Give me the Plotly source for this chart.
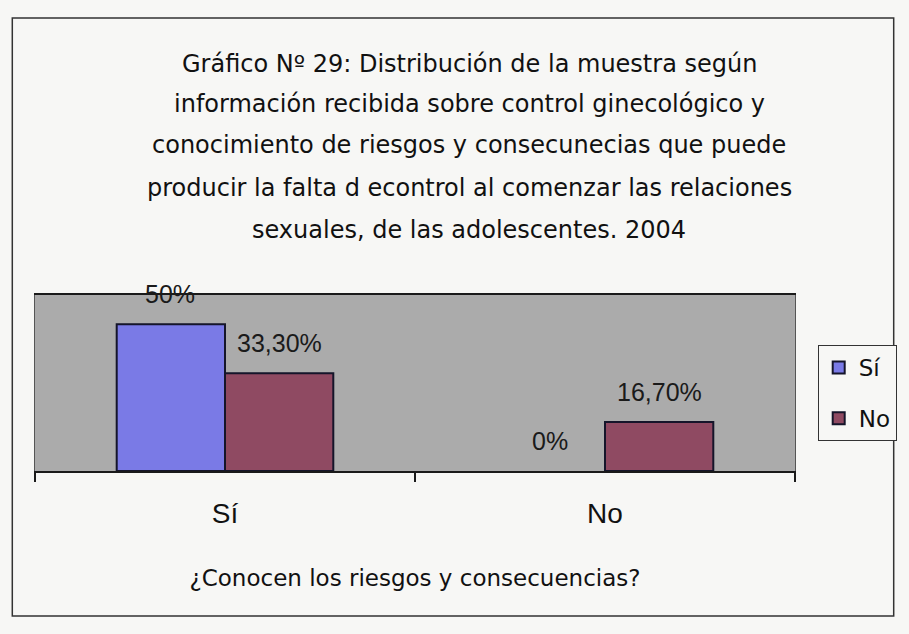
import plotly.graph_objects as go

# Categories on the x axis and the two answer series (percent of sample)
categories = ["Sí", "No"]
series_names = ["Sí", "No"]
values_si = [50, 0]
values_no = [33.3, 16.7]
series_values = [values_si, values_no]
series_colors = ["#7A7AE6", "#8F4A62"]

title_lines = [
    "Gráfico Nº 29: Distribución de la muestra según",
    "información recibida sobre control ginecológico y",
    "conocimiento de riesgos y consecunecias que puede",
    "producir la falta d econtrol al comenzar las relaciones",
    "sexuales, de las adolescentes. 2004",
]
x_title = "¿Conocen los riesgos y consecuencias?"

W, H = 909, 634
L, R, T, B = 35, 104, 295, 163
plot_h = H - T - B
plot_w = W - L - R

TEXT_FONT = "DejaVu Sans"
NUM_FONT = "Liberation Sans, Arial, sans-serif"
BG = "#F7F7F5"


def fmt_pct(v):
    if float(v).is_integer():
        return f"{int(v)}%"
    return f"{v:.2f}".replace(".", ",") + "%"


def py(pixel_y):
    # convert a page pixel row into paper y
    return (H - B - pixel_y) / plot_h


def px(pixel_x):
    return (pixel_x - L) / plot_w


fig = go.Figure()
for i, (name, vals, col) in enumerate(zip(series_names, series_values, series_colors)):
    fig.add_trace(go.Bar(
        name=name,
        x=categories,
        y=vals,
        legendgroup=name,
        marker=dict(
            color=col,
            # empty bars get no outline
            line=dict(color="#15152a", width=[2 if v else 0 for v in vals]),
        ),
        hoverinfo="skip",
    ))

bar_gap = 0.43
cat_px = plot_w / len(categories)
bar_px = cat_px * (1 - bar_gap) / len(series_names)

annotations = []
# value labels above each bar
for i, vals in enumerate(series_values):
    offset = (i - (len(series_names) - 1) / 2) * bar_px
    for c, v in zip(categories, vals):
        annotations.append(dict(
            x=c, y=v, xref="x", yref="y", xshift=offset, yshift=14,
            text=fmt_pct(v), showarrow=False, yanchor="bottom",
            font=dict(family=NUM_FONT, size=25, color="#1a1a1a"),
        ))

# chart title, one line per annotation
title_rows = [64, 104, 145, 188, 230]
for line, row in zip(title_lines, title_rows):
    annotations.append(dict(
        x=px(475), y=py(row), xref="paper", yref="paper",
        text=line, showarrow=False, xanchor="center", yanchor="middle",
        font=dict(family=TEXT_FONT, size=24, color="#111111"),
    ))

# outer chart frame
shapes = [dict(
    type="rect", xref="paper", yref="paper",
    x0=px(12), x1=px(905), y0=py(616), y1=py(18),
    line=dict(color="#333333", width=1.5), fillcolor="rgba(0,0,0,0)",
    layer="below",
)]

fig.update_layout(
    width=W, height=H,
    margin=dict(l=L, r=R, t=T, b=B, pad=0),
    paper_bgcolor=BG,
    plot_bgcolor="#ABABAB",
    barmode="group",
    bargap=bar_gap,
    bargroupgap=0,
    showlegend=True,
    legend=dict(
        x=px(828), y=py(345), xanchor="left", yanchor="top",
        bgcolor=BG, bordercolor="#333333", borderwidth=1,
        font=dict(family=TEXT_FONT, size=23, color="#111111"),
        tracegroupgap=18,
        traceorder="grouped",
        itemwidth=30,
    ),
    xaxis=dict(
        type="category",
        showline=True, linecolor="#1a1a1a", linewidth=2, mirror=True,
        ticks="outside", tickson="boundaries", ticklen=9, tickcolor="#1a1a1a",
        tickwidth=1.5,
        tickfont=dict(family=NUM_FONT, size=28, color="#111111"),
        ticklabelstandoff=16,
        showgrid=False,
        title=dict(text=x_title, standoff=42,
                   font=dict(family=TEXT_FONT, size=23, color="#111111")),
    ),
    yaxis=dict(
        range=[0, 60],
        showticklabels=False, showgrid=False, zeroline=False,
        showline=True, linecolor="#555555", linewidth=1, mirror=True,
        ticks="",
    ),
    annotations=annotations,
    shapes=shapes,
)

fig.write_html("out.html")
